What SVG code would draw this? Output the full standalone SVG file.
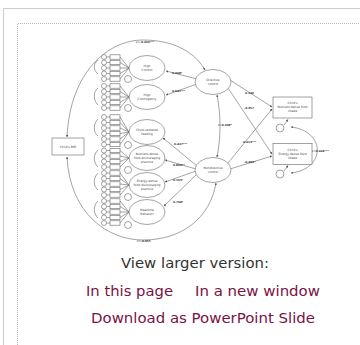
<svg xmlns="http://www.w3.org/2000/svg" width="360" height="345" viewBox="0 0 360 345">
<style>
.s{fill:#fff;stroke:#666;stroke-width:0.6}
.l{fill:none;stroke:#666;stroke-width:0.6}
.t{font-family:"DejaVu Sans",sans-serif;font-size:3px;fill:#444;text-anchor:middle}
.v{font-family:"DejaVu Sans",sans-serif;font-size:2.8px;fill:#333;font-weight:bold}
.cap{font-family:"DejaVu Sans",sans-serif;font-size:14px;fill:#333}
.lk{font-family:"DejaVu Sans",sans-serif;font-size:14px;fill:#7a1345}
</style>
<defs>
<marker id="a" viewBox="0 0 6 6" refX="5.5" refY="3" markerWidth="4" markerHeight="4" orient="auto-start-reverse"><path d="M0,0L6,3L0,6z" fill="#555"/></marker>
</defs>
<rect width="360" height="345" fill="#fff"/>
<path d="M3.5,345V8.5H360" fill="none" stroke="#ccc" stroke-width="1"/>
<path d="M17.5,345V23.5H360" fill="none" stroke="#bbb" stroke-width="1" stroke-dasharray="1,1"/>

<g id="connectors">
<path class="l" d="M67,137C70,72 108,40 143,40C176,40 196,54 205,70" marker-start="url(#a)" marker-end="url(#a)"/>
<path class="l" d="M67,157C70,214 108,240 143,240C182,240 210,218 216,183" marker-start="url(#a)" marker-end="url(#a)"/>
<path class="l" d="M217,95C221,115 221,138 217,157" marker-start="url(#a)" marker-end="url(#a)"/>
<line class="l" x1="197" y1="79" x2="166" y2="71" marker-end="url(#a)"/>
<line class="l" x1="197" y1="84" x2="166" y2="95" marker-end="url(#a)"/>
<line class="l" x1="197" y1="166" x2="163" y2="138" marker-end="url(#a)"/>
<line class="l" x1="196" y1="169" x2="165" y2="160" marker-end="url(#a)"/>
<line class="l" x1="196" y1="171" x2="165" y2="182" marker-end="url(#a)"/>
<line class="l" x1="197" y1="174" x2="164" y2="206" marker-end="url(#a)"/>
<line class="l" x1="230" y1="80" x2="272" y2="107" marker-end="url(#a)"/>
<line class="l" x1="228" y1="88" x2="272" y2="154" marker-end="url(#a)"/>
<line class="l" x1="228" y1="163" x2="272" y2="109" marker-end="url(#a)"/>
<line class="l" x1="230" y1="169" x2="272" y2="156" marker-end="url(#a)"/>
<path class="l" d="M291,127C326,131 326,169 291,173" marker-start="url(#a)" marker-end="url(#a)"/>
<line class="l" x1="284" y1="125" x2="288" y2="119.5" marker-end="url(#a)"/>
<line class="l" x1="284" y1="171" x2="288" y2="165.5" marker-end="url(#a)"/>
<path class="l" d="M98,60C93,64 93,70 98,74M98,88C93,92 93,100 98,105M98,119C93,124 93,132 98,136M98,150C93,155 93,162 98,167M98,173C93,178 93,186 98,190M98,201C93,206 93,213 98,218"/>
</g>

<g id="indicators">
<g class="s">
<circle cx="104" cy="57" r="2.5"/><circle cx="104" cy="62.5" r="2.5"/><circle cx="104" cy="68" r="2.5"/><circle cx="104" cy="73.5" r="2.5"/><circle cx="104" cy="79" r="2.5"/>
<circle cx="104" cy="86" r="2.5"/><circle cx="104" cy="91.5" r="2.5"/><circle cx="104" cy="97" r="2.5"/><circle cx="104" cy="102.5" r="2.5"/><circle cx="104" cy="108" r="2.5"/>
<circle cx="104" cy="117" r="2.5"/><circle cx="104" cy="122.5" r="2.5"/><circle cx="104" cy="128" r="2.5"/><circle cx="104" cy="133.5" r="2.5"/><circle cx="104" cy="139" r="2.5"/><circle cx="104" cy="144.5" r="2.5"/>
<circle cx="104" cy="150.5" r="2.5"/><circle cx="104" cy="156" r="2.5"/><circle cx="104" cy="161.5" r="2.5"/><circle cx="104" cy="167" r="2.5"/>
<circle cx="104" cy="173" r="2.5"/><circle cx="104" cy="178.5" r="2.5"/><circle cx="104" cy="184" r="2.5"/><circle cx="104" cy="189.5" r="2.5"/><circle cx="104" cy="195" r="2.5"/>
<circle cx="104" cy="201" r="2.5"/><circle cx="104" cy="206.5" r="2.5"/><circle cx="104" cy="212" r="2.5"/><circle cx="104" cy="217.5" r="2.5"/><circle cx="104" cy="223" r="2.5"/>
</g>
<g class="s">
<rect x="110" y="54.8" width="10" height="4.4"/><rect x="110" y="60.3" width="10" height="4.4"/><rect x="110" y="65.8" width="10" height="4.4"/><rect x="110" y="71.3" width="10" height="4.4"/><rect x="110" y="76.8" width="10" height="4.4"/>
<rect x="110" y="83.8" width="10" height="4.4"/><rect x="110" y="89.3" width="10" height="4.4"/><rect x="110" y="94.8" width="10" height="4.4"/><rect x="110" y="100.3" width="10" height="4.4"/><rect x="110" y="105.8" width="10" height="4.4"/>
<rect x="110" y="114.8" width="10" height="4.4"/><rect x="110" y="120.3" width="10" height="4.4"/><rect x="110" y="125.8" width="10" height="4.4"/><rect x="110" y="131.3" width="10" height="4.4"/><rect x="110" y="136.8" width="10" height="4.4"/><rect x="110" y="142.3" width="10" height="4.4"/>
<rect x="110" y="148.3" width="10" height="4.4"/><rect x="110" y="153.8" width="10" height="4.4"/><rect x="110" y="159.3" width="10" height="4.4"/><rect x="110" y="164.8" width="10" height="4.4"/>
<rect x="110" y="170.8" width="10" height="4.4"/><rect x="110" y="176.3" width="10" height="4.4"/><rect x="110" y="181.8" width="10" height="4.4"/><rect x="110" y="187.3" width="10" height="4.4"/><rect x="110" y="192.8" width="10" height="4.4"/>
<rect x="110" y="198.8" width="10" height="4.4"/><rect x="110" y="204.3" width="10" height="4.4"/><rect x="110" y="209.8" width="10" height="4.4"/><rect x="110" y="215.3" width="10" height="4.4"/><rect x="110" y="220.8" width="10" height="4.4"/>
</g>
<path class="l" d="M106.5,57H110M106.5,62.5H110M106.5,68H110M106.5,73.5H110M106.5,79H110M106.5,86H110M106.5,91.5H110M106.5,97H110M106.5,102.5H110M106.5,108H110M106.5,117H110M106.5,122.5H110M106.5,128H110M106.5,133.5H110M106.5,139H110M106.5,144.5H110M106.5,150.5H110M106.5,156H110M106.5,161.5H110M106.5,167H110M106.5,173H110M106.5,178.5H110M106.5,184H110M106.5,189.5H110M106.5,195H110M106.5,201H110M106.5,206.5H110M106.5,212H110M106.5,217.5H110M106.5,223H110"/>
<path class="l" d="M129,68L120,57M129,68L120,62.5M129,68L120,68M129,68L120,73.5M129,68L120,79M129,97L120,86M129,97L120,91.5M129,97L120,97M129,97L120,102.5M129,97L120,108M129,132L120,117M129,132L120,122.5M129,132L120,128M129,132L120,133.5M129,132L120,139M129,132L120,144.5M129,158L120,150.5M129,158L120,156M129,158L120,161.5M129,158L120,167M129,185L120,173M129,185L120,178.5M129,185L120,184M129,185L120,189.5M129,185L120,195M129,212L120,201M129,212L120,206.5M129,212L120,212M129,212L120,217.5M129,212L120,223"/>
</g>

<g id="latent-errors" class="s">
<circle cx="128" cy="79" r="3.5"/><circle cx="128" cy="108" r="3.5"/><circle cx="128" cy="145" r="3.5"/><circle cx="128" cy="170" r="3.5"/><circle cx="128" cy="197" r="3.5"/><circle cx="128" cy="225" r="3.5"/>
</g>

<g id="bmi"><rect class="s" x="52" y="138" width="32" height="17"/><text class="t" x="68" y="148">Child's BMI</text></g>
<g id="high-control"><ellipse class="s" cx="147" cy="68" rx="18" ry="12.5"/><text class="t" x="147" y="67">High</text><text class="t" x="147" y="71">Control</text></g>
<g id="high-contingency"><ellipse class="s" cx="147" cy="97" rx="18" ry="12.5"/><text class="t" x="147" y="96">High</text><text class="t" x="147" y="100">Contingency</text></g>
<g id="child-centered"><ellipse class="s" cx="147" cy="132" rx="18" ry="12.5"/><text class="t" x="147" y="131">Child-centered</text><text class="t" x="147" y="135">feeding</text></g>
<g id="nutrient-practice"><ellipse class="s" cx="147" cy="158" rx="18" ry="12.5"/><text class="t" x="147" y="155">Nutrient-dense</text><text class="t" x="147" y="159">food encouraging</text><text class="t" x="147" y="163">practice</text></g>
<g id="energy-practice"><ellipse class="s" cx="147" cy="185" rx="18" ry="12.5"/><text class="t" x="147" y="182">Energy-dense</text><text class="t" x="147" y="186">food discouraging</text><text class="t" x="147" y="190">practice</text></g>
<g id="mealtime"><ellipse class="s" cx="147" cy="212" rx="18" ry="12.5"/><text class="t" x="147" y="211">Mealtime</text><text class="t" x="147" y="215">Behavior</text></g>
<g id="directive"><ellipse class="s" cx="213" cy="82" rx="18" ry="12.5"/><text class="t" x="213" y="81">Directive</text><text class="t" x="213" y="85">control</text></g>
<g id="nondirective"><ellipse class="s" cx="213" cy="170" rx="18" ry="12.5"/><text class="t" x="213" y="169">Nondirective</text><text class="t" x="213" y="173">control</text></g>
<g id="nutrient-intake"><rect class="s" x="273" y="97" width="39" height="21"/><text class="t" x="292.5" y="104">Child's</text><text class="t" x="292.5" y="108">Nutrient dense food</text><text class="t" x="292.5" y="112">intake</text><circle class="s" cx="280" cy="128" r="4"/></g>
<g id="energy-intake"><rect class="s" x="273" y="143.5" width="39" height="21"/><text class="t" x="292.5" y="150.5">Child's</text><text class="t" x="292.5" y="154.5">Energy dense food</text><text class="t" x="292.5" y="158.5">intake</text><circle class="s" cx="280" cy="174" r="4"/></g>

<g id="coefficients">
<text class="v" x="136" y="43">r=-0.293***</text>
<text class="v" x="137" y="242">r=-0.055</text>
<text class="v" x="172" y="74">0.008*</text>
<text class="v" x="172" y="92">0.641***</text>
<text class="v" x="174" y="145">0.427***</text>
<text class="v" x="173" y="166">0.864**</text>
<text class="v" x="173" y="181">0.169*</text>
<text class="v" x="173" y="203">0.708*</text>
<text class="v" x="218" y="126">r=0.398*</text>
<text class="v" x="245" y="94">0.146</text>
<text class="v" x="244" y="109">-0.057</text>
<text class="v" x="243" y="143">0.413***</text>
<text class="v" x="244" y="163">-0.209*</text>
<text class="v" x="312" y="152">r=0.424***</text>
</g>

<text class="cap" x="121" y="268" textLength="148" lengthAdjust="spacingAndGlyphs">View larger version:</text>
<text class="lk" x="86" y="296" textLength="87" lengthAdjust="spacingAndGlyphs">In this page</text>
<text class="lk" x="195" y="296" textLength="125" lengthAdjust="spacingAndGlyphs">In a new window</text>
<text class="lk" x="91" y="323" textLength="224" lengthAdjust="spacingAndGlyphs">Download as PowerPoint Slide</text>
</svg>
